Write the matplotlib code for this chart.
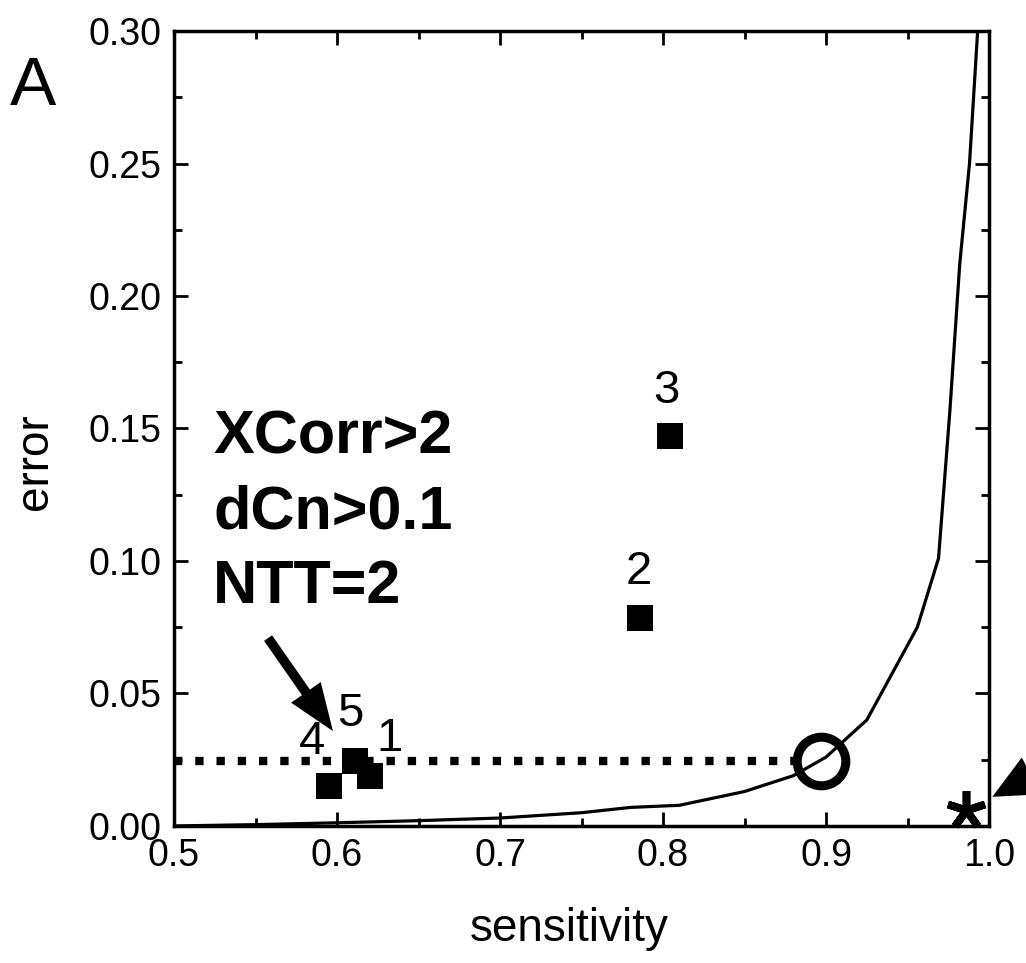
import matplotlib
matplotlib.use('Agg')
import matplotlib.pyplot as plt
from matplotlib.ticker import MultipleLocator, FormatStrFormatter

plt.rcParams['font.family'] = ['Liberation Sans', 'DejaVu Sans']

# threshold curve (sensitivity vs error)
curve_x = [0.50, 0.55, 0.60, 0.65, 0.70, 0.75, 0.78, 0.81, 0.85, 0.88,
           0.90, 0.925, 0.956, 0.969, 0.976, 0.982, 0.988, 0.993, 0.995]
curve_y = [0.000, 0.0005, 0.0012, 0.002, 0.003, 0.005, 0.007, 0.0078, 0.013, 0.019,
           0.026, 0.040, 0.075, 0.101, 0.157, 0.212, 0.250, 0.300, 0.320]

# filter sets
pt_labels = ['1', '2', '3', '4', '5']
pt_x = [0.620, 0.786, 0.804, 0.595, 0.611]
pt_y = [0.019, 0.0784, 0.147, 0.015, 0.0245]
lab_x = [0.632, 0.785, 0.802, 0.5845, 0.608]
lab_y = [0.0328, 0.096, 0.164, 0.0316, 0.0423]

# chosen operating point and the "ideal" one
circle_x, circle_y = 0.897, 0.0245
star_x, star_y = 0.986, 0.006

filter_text = ['XCorr>2', 'dCn>0.1', 'NTT=2']

fig = plt.figure(figsize=(10.26, 9.63), dpi=100)
ax = fig.add_axes([0.1696, 0.1423, 0.7944, 0.8255])

ax.plot(curve_x, curve_y, color='black', lw=2.3, zorder=2)

# dotted line from the y axis to the circle
ax.plot([0.5, circle_x - 0.011], [circle_y, circle_y], color='black', lw=6,
        dashes=(1, 1.55), dash_capstyle='butt', zorder=3)
ax.plot([circle_x], [circle_y], marker='o', ms=35, mfc='none', mec='black',
        mew=6.5, zorder=4)

ax.plot(pt_x, pt_y, 's', color='black', ms=18.5, mew=0, zorder=5)
for t, lx, ly in zip(pt_labels, lab_x, lab_y):
    ax.text(lx, ly, t, fontsize=34, ha='center', va='center', zorder=6)

ax.plot([star_x], [star_y], marker=(5, 2, 0), ms=28, mew=5.5, color='black',
        zorder=5, clip_on=False)

# arrows
ax.annotate('', xy=(0.5975, 0.0358), xytext=(0.5577, 0.0709),
            arrowprops=dict(arrowstyle='simple,head_length=1.7,head_width=1.3,tail_width=0.35',
                            mutation_scale=20, color='black', lw=0,
                            shrinkA=0, shrinkB=0))
ax.annotate('', xy=(1.002, 0.011), xytext=(1.06, 0.03),
            arrowprops=dict(arrowstyle='simple,head_length=1.6,head_width=1.5,tail_width=0.35',
                            mutation_scale=20, color='black', lw=0,
                            shrinkA=0, shrinkB=0),
            annotation_clip=False)

for i, t in enumerate(filter_text):
    ax.text(0.048, 0.469 - i * 0.0943, t, transform=ax.transAxes, fontsize=44,
            fontweight='bold', ha='left', va='baseline')

ax.set_xlim(0.5, 1.0)
ax.set_ylim(0.0, 0.30)
ax.xaxis.set_major_locator(MultipleLocator(0.1))
ax.xaxis.set_minor_locator(MultipleLocator(0.05))
ax.yaxis.set_major_locator(MultipleLocator(0.05))
ax.yaxis.set_minor_locator(MultipleLocator(0.025))
ax.xaxis.set_major_formatter(FormatStrFormatter('%.1f'))
ax.yaxis.set_major_formatter(FormatStrFormatter('%.2f'))
ax.tick_params(which='both', direction='in', top=True, right=True, width=2)
ax.tick_params(which='major', length=10, labelsize=27, pad=9)
ax.tick_params(which='minor', length=6)
for s in ax.spines.values():
    s.set_linewidth(2.5)

ax.set_xlabel('sensitivity', fontsize=33)
ax.set_ylabel('error', fontsize=33)
ax.xaxis.set_label_coords(0.485, -0.102)
ax.yaxis.set_label_coords(-0.1436, 0.458)

fig.text(0.01, 0.891, 'A', fontsize=50, ha='left', va='baseline')

fig.savefig('out.png', dpi=100)
